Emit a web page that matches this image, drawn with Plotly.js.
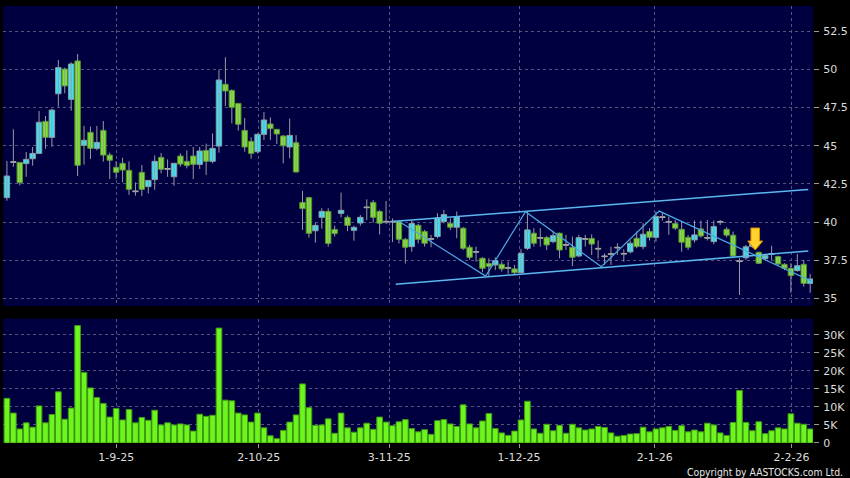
<!DOCTYPE html>
<html>
<head>
<meta charset="utf-8">
<script src="https://cdn.plot.ly/plotly-3.0.1.min.js"></script>
<style>
html,body{margin:0;padding:0;background:#000;}
#chart{width:850px;height:478px;}
</style>
</head>
<body>
<div id="chart"></div>
<script>
// ---- data (one entry per trading day) ----
const openP = [41.60,43.91,43.91,43.83,44.15,44.50,46.60,45.55,48.41,50.03,48.04,50.56,45.03,45.88,44.83,46.01,44.39,43.59,43.85,43.39,
41.99,43.26,42.32,42.78,44.24,43.46,42.97,44.33,43.98,44.33,43.78,44.70,43.98,44.98,49.03,48.63,47.78,46.01,45.29,44.61,
45.75,46.43,46.08,45.64,44.92,45.20,41.29,41.60,39.43,40.31,40.70,39.52,40.57,40.31,39.46,39.94,40.94,41.29,40.70,40.00,
40.00,40.05,38.87,38.39,39.79,39.38,38.87,39.05,40.03,39.92,39.66,39.60,38.35,38.02,37.63,37.28,37.19,37.23,36.97,36.93,
36.68,38.28,39.27,38.94,38.98,38.72,39.27,38.48,38.35,37.78,38.87,38.93,38.23,37.73,37.88,38.30,37.90,38.05,38.94,38.39,
39.38,39.00,40.30,39.99,39.90,39.53,39.00,38.83,39.55,38.94,38.72,39.99,39.53,39.14,37.41,37.66,38.40,38.02,37.60,37.89,
37.74,37.23,36.97,36.82,37.23,35.98];
const highP = [44.00,46.08,43.91,44.59,44.92,47.28,46.95,47.43,50.62,50.12,50.47,51.01,46.30,46.25,46.30,46.62,44.55,43.98,44.22,43.98,
42.60,43.74,42.73,44.37,44.53,44.11,43.89,44.50,44.70,44.92,44.92,45.14,45.81,49.97,50.80,48.70,47.78,46.82,45.55,45.81,
47.21,46.86,46.08,45.70,46.78,45.70,42.04,41.66,39.96,40.90,40.90,39.76,41.93,40.44,39.76,40.46,41.49,41.44,40.78,41.38,
40.24,40.10,38.95,40.14,39.88,39.49,39.16,40.58,40.80,40.25,40.69,39.66,38.50,38.39,37.69,37.63,37.69,37.41,37.41,37.19,
38.24,40.69,39.60,39.60,39.09,39.38,39.31,39.16,39.05,39.16,39.16,39.20,38.80,37.95,38.38,38.61,38.22,38.79,39.38,39.92,
39.60,40.69,40.60,40.36,40.14,40.03,39.16,40.10,40.10,40.14,40.10,40.14,39.66,39.38,37.63,38.50,38.80,38.06,37.90,38.44,
37.80,37.30,37.30,37.91,37.52,36.60];
const lowP = [41.40,43.63,42.41,42.97,43.70,44.50,44.81,44.94,47.56,48.44,47.30,43.02,43.76,44.13,44.70,43.96,42.82,42.84,42.60,41.79,
41.73,41.71,41.88,42.12,43.19,42.97,42.38,43.63,43.52,42.82,43.48,43.08,43.85,44.55,47.61,46.47,45.99,44.61,44.15,44.50,
45.38,45.38,45.12,43.85,44.18,43.24,39.48,38.98,38.65,39.57,38.39,39.05,40.31,39.41,38.78,39.76,40.13,39.96,39.19,39.87,
38.69,38.60,37.29,38.06,38.61,38.39,38.35,38.94,39.92,39.49,38.94,38.17,37.52,37.41,36.71,36.42,36.86,36.75,36.60,36.53,
36.64,38.17,38.39,38.39,38.17,38.61,37.63,38.17,37.12,37.69,38.39,37.84,37.60,37.19,37.19,37.85,37.41,37.95,38.28,38.22,
38.79,38.72,40.10,39.16,39.49,38.06,38.17,38.65,38.98,38.79,38.54,39.81,39.00,37.69,35.22,37.52,38.30,37.25,37.50,37.52,
37.20,36.85,35.37,36.75,35.77,35.37];
const closeP = [43.02,43.91,42.58,44.11,44.50,46.54,45.55,47.34,50.12,48.92,50.36,43.72,45.36,44.83,45.22,44.39,44.05,43.26,43.41,42.14,
41.99,42.14,42.73,43.98,43.46,43.46,43.85,43.80,43.70,43.78,44.66,43.98,44.83,49.31,48.59,47.52,46.41,44.92,44.50,45.75,
46.69,46.12,45.77,45.00,45.68,43.28,40.88,39.26,39.78,40.70,38.60,39.24,40.77,39.78,39.65,40.31,40.94,40.31,39.92,40.00,
40.00,38.87,38.35,39.90,38.87,38.61,38.87,40.27,40.49,39.66,40.34,38.28,37.69,38.02,36.97,37.10,37.47,36.93,36.97,36.68,
37.95,39.49,38.61,38.94,38.50,39.11,38.17,38.48,37.69,38.98,38.87,38.56,38.23,37.73,37.88,38.30,37.90,38.61,38.39,39.20,
39.00,40.36,40.30,39.99,39.60,38.68,38.35,39.16,39.09,38.94,39.70,39.99,39.14,37.78,37.41,38.38,38.60,37.30,37.80,37.89,
37.25,36.97,36.49,37.14,35.98,36.27];
// volume, thousands of shares
const volumeK = [12.4,8.3,3.9,5.6,4.4,10.3,5.6,7.9,14.2,6.6,9.7,32.6,19.6,15.3,12.6,11.0,7.2,9.6,6.4,9.3,
5.6,7.1,6.3,9.1,5.0,5.6,5.0,5.3,5.0,3.3,8.0,7.4,7.7,31.9,11.9,11.7,8.3,7.8,5.8,8.3,
4.2,2.0,1.2,3.5,5.8,7.8,16.4,9.8,4.9,5.0,6.7,2.7,8.3,4.2,3.0,4.2,5.5,3.8,7.2,5.8,
4.8,5.9,6.5,4.0,3.1,3.7,2.4,6.2,6.5,5.3,4.6,10.6,5.3,4.2,6.1,8.2,4.0,2.8,2.1,3.3,
6.4,11.6,3.9,2.7,5.2,3.4,4.9,2.7,5.2,4.2,3.6,3.9,4.6,4.3,2.8,1.9,2.1,2.5,2.6,4.4,
3.1,3.9,4.2,4.6,3.5,4.8,3.1,3.6,3.1,5.5,5.0,2.8,2.1,5.7,14.6,5.7,3.4,5.9,2.6,3.4,
4.2,3.9,8.1,5.5,5.2,3.9];

// date tick labels (d-m-yy) and their position along the bar sequence
const tickLabels = ['1-9-25','2-10-25','3-11-25','1-12-25','2-1-26','2-2-26'];
const tickPos = [17, 39.2, 59.5, 79.7, 100.8, 122.1];
const priceTicks = [35, 37.5, 40, 42.5, 45, 47.5, 50, 52.5];
const volTicks = [0, 5, 10, 15, 20, 25, 30];
const volTickLabels = ['0','5K','10K','15K','20K','25K','30K'];

// drawn trend lines (bar position, price)
const channelUpperX = [59.9, 124.7], channelUpperY = [40.03, 42.14];
const channelLowerX = [60.5, 124.7], channelLowerY = [35.92, 38.10];
const zigzagX = [61.1, 74.5, 80.7, 92.5, 101.5, 125.2];
const zigzagY = [40.02, 36.46, 40.68, 37.07, 40.72, 36.13];
// signal arrow (bar position, tip price, top price)
const arrowBar = 116.45, arrowTip = 38.17, arrowTop = 39.61;

// ---- build traces ----
const n = openP.length;
const idx = openP.map((_, i) => i);
const CYAN = '#36e6f6', GREEN = '#7ee32c', GRAY = '#a8a8a8';
const wx = [], wy = [];
const base = [], hgt = [], fill = [], edge = [];
for (let i = 0; i < n; i++) {
  wx.push(i, i, null); wy.push(lowP[i], highP[i], null);
  const o = openP[i], c = closeP[i];
  base.push(Math.min(o, c));
  hgt.push(Math.max(Math.abs(c - o), 0.05));
  if (c > o) { fill.push(CYAN); edge.push('#8a9aa6'); }
  else if (c < o) { fill.push(GREEN); edge.push('#4e8f2a'); }
  else { fill.push(GRAY); edge.push(GRAY); }
}

const traces = [
  {type:'scatter', mode:'lines', x:wx, y:wy, xaxis:'x', yaxis:'y',
   line:{color:'#9a9aa2', width:1}, hoverinfo:'skip', showlegend:false},
  {type:'bar', x:idx, y:hgt, base:base, xaxis:'x', yaxis:'y', width:0.85,
   marker:{color:fill, line:{color:edge, width:1}}, hoverinfo:'skip', showlegend:false},
  {type:'scatter', mode:'lines', x:channelUpperX, y:channelUpperY, xaxis:'x', yaxis:'y',
   line:{color:'#5ab8ee', width:1.5}, hoverinfo:'skip', showlegend:false},
  {type:'scatter', mode:'lines', x:channelLowerX, y:channelLowerY, xaxis:'x', yaxis:'y',
   line:{color:'#5ab8ee', width:1.5}, hoverinfo:'skip', showlegend:false},
  {type:'scatter', mode:'lines', x:zigzagX, y:zigzagY, xaxis:'x', yaxis:'y',
   line:{color:'#4aa8e0', width:1.2}, hoverinfo:'skip', showlegend:false},
  {type:'bar', x:idx, y:volumeK, xaxis:'x2', yaxis:'y2', width:0.88,
   marker:{color:'#6ef51e', line:{color:'#3f9a14', width:1}}, hoverinfo:'skip', showlegend:false}
];

// arrow path built from its anchor values
const sw = 0.67, hw = 1.17, headBase = arrowTip + 0.59;
const arrowPath = `M ${arrowBar-sw},${arrowTop} L ${arrowBar+sw},${arrowTop} L ${arrowBar+sw},${headBase} ` +
  `L ${arrowBar+hw},${headBase} L ${arrowBar},${arrowTip} L ${arrowBar-hw},${headBase} L ${arrowBar-sw},${headBase} Z`;

const GRID = '#55557e';
const FONT = {family:'DejaVu Sans, Verdana, sans-serif', size:11, color:'#dcdcdc'};
const xr = [-0.61, 125.44];

const layout = {
  width:850, height:478,
  paper_bgcolor:'#000000', plot_bgcolor:'#000040',
  margin:{l:3, r:37, t:6, b:35},
  barmode:'overlay', bargap:0, showlegend:false,
  font:FONT,
  xaxis:{domain:[0,1], anchor:'y', range:xr, tickvals:tickPos, ticktext:tickLabels,
    showticklabels:false, showgrid:true, gridcolor:GRID, griddash:'3px,3px', gridwidth:1,
    zeroline:false, showline:false, ticks:''},
  yaxis:{domain:[0.3135,1], anchor:'x', range:[34.5,54.16], side:'right',
    tickvals:priceTicks, ticktext:priceTicks.map(String),
    showgrid:true, gridcolor:GRID, griddash:'3px,3px', gridwidth:1, zeroline:false,
    ticks:'outside', ticklen:5, tickcolor:'#9a9a9a', ticklabelstandoff:2, tickfont:FONT},
  xaxis2:{domain:[0,1], anchor:'y2', range:xr, tickvals:tickPos, ticktext:tickLabels,
    showgrid:true, gridcolor:GRID, griddash:'3px,3px', gridwidth:1,
    zeroline:false, showline:false, ticks:'outside', ticklen:4, tickcolor:'#9a9a9a', tickfont:FONT},
  yaxis2:{domain:[0,0.2844], anchor:'x2', range:[0,34.5], side:'right',
    tickvals:volTicks, ticktext:volTickLabels,
    showgrid:true, gridcolor:GRID, griddash:'3px,3px', gridwidth:1, zeroline:false,
    ticks:'outside', ticklen:5, tickcolor:'#9a9a9a', ticklabelstandoff:2, tickfont:FONT},
  shapes:[
    {type:'path', xref:'x', yref:'y', path:arrowPath, fillcolor:'#ffd22e',
     line:{color:'#d88a00', width:1}, layer:'above'}
  ],
  annotations:[
    {text:'Copyright by AASTOCKS.com Ltd.', xref:'paper', yref:'paper', x:1.0395, y:-0.066,
     xanchor:'right', yanchor:'middle', showarrow:false,
     font:{family:'DejaVu Sans Condensed, Liberation Sans Narrow, DejaVu Sans, sans-serif', size:10.3, color:'#e6e6e6'}}
  ]
};

Plotly.newPlot('chart', traces, layout, {staticPlot:true, displayModeBar:false});
</script>
</body>
</html>
